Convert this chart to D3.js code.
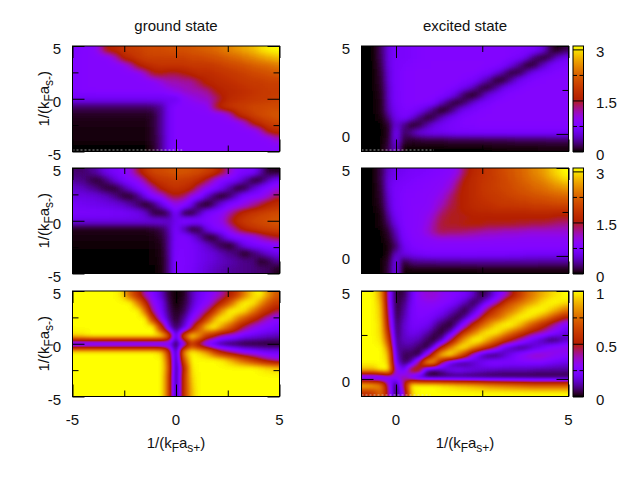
<!DOCTYPE html>
<html>
<head>
<meta charset="utf-8">
<script src="https://cdn.jsdelivr.net/npm/d3@7"></script>
<style>
  html, body { margin: 0; padding: 0; background: #fff; }
  text { font-family: "Liberation Sans", Arial, sans-serif; font-size: 15px; fill: #111; }
</style>
</head>
<body>
<svg id="chart" width="640" height="480"></svg>
<script>
// values, rows run top to bottom
const groundTop = [
  [.75,.8,.82,1.1,1.55,1.65,1.8,1.9,1.95,2,2.05,2.05,2.1,2.1,2.1,2.15,2.2,2.25,2.3,2.4,2.5,2.6,2.7,2.8,2.95,3.05,3.1],
  [.78,.8,.82,.82,.82,1.1,1.55,1.7,1.85,1.95,1.95,1.95,1.95,1.95,1.95,2,2,2.05,2.1,2.15,2.25,2.3,2.4,2.5,2.6,2.7,2.8],
  [.78,.8,.82,.82,.82,.82,.85,1.1,1.5,1.65,1.75,1.8,1.8,1.8,1.8,1.85,1.85,1.85,1.9,1.95,2,2.05,2.1,2.2,2.25,2.3,2.4],
  [.78,.8,.82,.82,.82,.82,.82,.82,.85,1.1,1.45,1.5,1.4,1.4,1.5,1.6,1.7,1.7,1.75,1.8,1.85,1.9,1.95,2,2.05,2.1,2.15],
  [.78,.8,.82,.82,.82,.82,.82,.82,.82,.82,.85,1,1.15,1.15,1.2,1.2,1.4,1.6,1.65,1.7,1.75,1.8,1.85,1.9,1.9,1.95,1.95],
  [.78,.8,.8,.82,.82,.82,.82,.82,.82,.82,.82,.82,.9,1,1.1,1.15,1.15,1.25,1.5,1.6,1.65,1.7,1.75,1.8,1.85,1.9,1.9],
  [.62,.62,.62,.62,.62,.62,.62,.62,.62,.62,.62,.62,.62,.6,.85,.95,1.05,1.1,1.25,1.5,1.7,1.75,1.8,1.85,1.9,1.9,1.95],
  [.2,.2,.2,.2,.2,.2,.2,.2,.2,.2,.22,.32,.62,.8,.82,.82,.85,.9,1.4,1.7,1.85,1.9,1.95,2,2,2.05,2.05],
  [.06,.06,.06,.06,.06,.06,.06,.06,.06,.06,.1,.3,.62,.8,.82,.82,.82,.82,.82,.85,1.1,1.6,1.8,1.95,2.05,2.1,2.15],
  [.04,.04,.04,.04,.04,.04,.04,.04,.04,.04,.1,.3,.62,.8,.82,.82,.82,.82,.82,.82,.82,.85,1.1,1.55,1.75,1.9,2],
  [.03,.03,.03,.03,.03,.03,.03,.03,.03,.03,.08,.3,.62,.8,.82,.82,.82,.82,.82,.82,.82,.82,.82,.85,1.1,1.55,1.7],
  [.02,.02,.02,.02,.02,.02,.02,.02,.02,.02,.08,.28,.62,.8,.82,.82,.82,.82,.82,.82,.82,.82,.82,.82,.82,.85,1.1],
  [0,0,0,0,0,0,0,0,0,0,.06,.28,.62,.8,.82,.82,.82,.82,.82,.82,.82,.82,.82,.82,.82,.82,.82]
];
const groundMid = [
  [.22,.22,.3,.42,.6,.7,.8,1,1.45,1.8,2,2.05,2.1,2.15,2.15,2.1,2.05,1.95,1.8,1.5,1.1,.8,.75,.7,.4,.1,.06],
  [.3,.25,.12,.1,.28,.5,.68,.8,.95,1.3,1.7,1.85,1.9,1.95,1.9,1.85,1.7,1.4,1.05,.8,.72,.62,.38,.08,.08,.38,.6],
  [.45,.4,.3,.2,.08,.08,.28,.5,.72,.9,1.2,1.6,1.75,1.8,1.75,1.6,1.2,.95,.78,.6,.3,.05,.11,.42,.65,.8,1],
  [.55,.55,.52,.48,.4,.25,.1,.05,.25,.6,.85,1,1.35,1.5,1.35,1,.85,.45,.15,.03,.18,.48,.72,.8,.85,1.05,1.35],
  [.65,.62,.6,.58,.55,.52,.45,.35,.2,.04,.2,.5,.8,1,.85,.55,.13,.04,.25,.55,.75,.85,1,1.2,1.4,1.6,1.75],
  [.72,.72,.72,.7,.7,.68,.68,.65,.6,.45,.12,.05,.2,.7,.1,.05,.35,.7,.8,.9,1.2,1.5,1.7,1.85,1.95,2,2.05],
  [.55,.55,.55,.55,.55,.55,.55,.55,.55,.55,.55,.55,.45,.6,.8,.8,.75,.8,.85,1,1.45,1.75,1.9,2,2.05,2.1,2.15],
  [.05,.05,.05,.05,.05,.05,.05,.05,.05,.05,.08,.15,.35,.7,.35,.05,.12,.55,.78,.82,1.05,1.4,1.65,1.8,1.9,1.95,2],
  [.02,.02,.02,.02,.02,.02,.02,.02,.02,.02,.04,.08,.3,.7,.75,.62,.35,.07,.07,.4,.7,.8,.85,.95,1.15,1.35,1.5],
  [.01,.01,.01,.01,.01,.01,.01,.01,.01,.01,.02,.05,.3,.72,.75,.7,.6,.45,.25,.12,.05,.3,.6,.7,.75,.8,.85],
  [0,0,0,0,0,0,0,0,0,0,.01,.04,.28,.75,.75,.7,.62,.55,.5,.38,.28,.2,.04,.2,.35,.5,.6],
  [0,0,0,0,0,0,0,0,0,0,.01,.03,.25,.78,.75,.7,.62,.55,.5,.42,.38,.33,.28,.25,.05,.12,.3],
  [0,0,0,0,0,0,0,0,0,0,0,.02,.25,.78,.75,.68,.6,.5,.42,.38,.33,.3,.28,.25,.22,.2,.06]
];
const groundBot = [
  [1,1,1,1,1,1,.95,.72,.55,.35,.25,.15,.03,0,.02,.12,.2,.25,.3,.38,.5,.62,.8,.95,1,.85,.7],
  [1,1,1,1,1,1,1,1,.8,.55,.3,.2,.05,0,.03,.12,.22,.28,.4,.55,.72,.92,1,.98,.85,.7,.6],
  [1,1,1,1,1,1,1,1,1,.75,.38,.22,.07,.01,.05,.17,.28,.42,.62,.85,1,1,.95,.8,.65,.55,.45],
  [1,1,1,1,1,1,1,1,1,1,.6,.28,.1,.02,.1,.25,.4,.65,.9,1,.95,.8,.68,.55,.45,.35,.28],
  [1,1,1,1,1,1,1,1,1,1,1,.6,.18,.05,.15,.4,.7,.95,1,.85,.7,.55,.42,.33,.28,.25,.22],
  [.95,.97,1,1,1,1,1,1,1,1,1,.98,.75,.12,.7,1,.85,.6,.48,.35,.3,.25,.2,.18,.16,.14,.13],
  [.12,.12,.12,.12,.12,.12,.12,.12,.12,.12,.12,.12,.2,.03,.25,.6,.4,.2,.12,.06,.04,.03,.02,.02,.02,.02,.02],
  [1,1,1,1,1,1,1,1,1,1,1,.95,.6,.05,.85,1,.95,.85,.65,.5,.4,.33,.28,.25,.22,.2,.2],
  [1,1,1,1,1,1,1,1,1,1,1,1,.7,.03,.7,1,1,1,1,.98,.9,.8,.7,.6,.5,.42,.35],
  [1,1,1,1,1,1,1,1,1,1,1,1,.75,.02,.55,.98,1,1,1,1,1,1,1,1,.98,.95,.92],
  [1,1,1,1,1,1,1,1,1,1,1,1,.7,.02,.6,.95,1,1,1,1,1,1,1,1,1,1,1],
  [1,1,1,1,1,1,1,1,1,1,1,1,.7,.02,.6,.92,1,1,1,1,1,1,1,1,1,1,1],
  [1,1,1,1,1,1,1,1,1,1,1,1,.7,.02,.6,.9,1,1,1,1,1,1,1,1,1,1,1]
];
const excitedTop = [
  [0,0,.2,.55,.7,.72,.75,.78,.8,.8,.8,.8,.8,.8,.8,.8,.8,.8,.8,.78,.78,.75,.7,.55,.2,.04,.15],
  [0,0,.18,.55,.7,.72,.75,.78,.8,.8,.8,.8,.8,.8,.8,.8,.8,.8,.8,.78,.72,.55,.22,.05,.13,.42,.6],
  [0,0,.15,.55,.7,.75,.78,.8,.8,.82,.82,.82,.82,.82,.82,.82,.8,.8,.72,.55,.3,.07,.1,.38,.6,.72,.75],
  [0,0,.12,.5,.72,.78,.8,.82,.82,.82,.82,.82,.82,.82,.82,.78,.72,.55,.32,.07,.09,.35,.6,.7,.75,.78,.8],
  [0,0,.1,.5,.72,.78,.8,.82,.82,.82,.82,.82,.82,.78,.72,.55,.35,.09,.07,.32,.58,.7,.78,.8,.82,.82,.82],
  [0,0,.08,.45,.72,.78,.8,.82,.82,.82,.82,.8,.72,.6,.4,.11,.06,.28,.55,.68,.75,.8,.82,.82,.82,.82,.82],
  [0,0,.06,.45,.7,.78,.8,.82,.82,.82,.78,.65,.42,.13,.04,.22,.5,.65,.75,.8,.82,.82,.82,.82,.82,.82,.82],
  [0,0,.05,.42,.7,.78,.8,.82,.8,.72,.42,.15,.04,.2,.45,.65,.72,.8,.82,.82,.82,.82,.82,.82,.82,.82,.82],
  [0,0,.05,.4,.65,.75,.75,.65,.42,.18,.03,.17,.42,.62,.72,.78,.8,.82,.82,.82,.82,.82,.82,.82,.82,.82,.82],
  [0,0,.02,.25,.6,.7,.55,.25,.05,.13,.4,.6,.7,.78,.8,.82,.82,.82,.82,.82,.82,.82,.82,.82,.82,.82,.82],
  [0,0,0,.1,.5,.28,.05,.11,.35,.55,.65,.7,.75,.78,.78,.8,.8,.8,.8,.8,.8,.8,.8,.8,.8,.8,.8],
  [0,0,0,.05,.65,.2,.35,.55,.62,.65,.65,.68,.7,.7,.72,.72,.72,.72,.72,.72,.72,.72,.72,.72,.72,.72,.72],
  [0,0,0,.1,.6,.12,.08,.1,.12,.12,.12,.14,.14,.15,.15,.15,.16,.16,.16,.17,.18,.18,.18,.18,.2,.2,.2],
  [0,0,0,.15,.45,0,0,0,0,0,0,0,0,0,0,0,0,.01,.01,.01,.01,.01,.01,.02,.02,.02,.02]
];
const excitedMid = [
  [0,0,.15,.5,.6,.65,.7,.72,.75,.78,.8,.85,1,1.4,1.65,1.75,1.85,1.95,2.05,2.15,2.25,2.35,2.5,2.6,2.8,2.95,3.1],
  [0,0,.15,.55,.65,.7,.75,.78,.8,.82,.85,.95,1.2,1.55,1.7,1.8,1.85,1.95,2,2.1,2.2,2.3,2.4,2.5,2.65,2.8,2.95],
  [0,0,.12,.55,.7,.75,.78,.8,.82,.85,.9,1.05,1.4,1.6,1.7,1.8,1.9,1.95,2,2.05,2.15,2.2,2.3,2.35,2.45,2.55,2.65],
  [0,0,.1,.5,.72,.78,.8,.82,.85,.88,1,1.25,1.5,1.6,1.7,1.8,1.85,1.9,1.95,2,2.05,2.1,2.15,2.2,2.25,2.3,2.35],
  [0,0,.08,.45,.72,.78,.82,.82,.85,.95,1.1,1.35,1.5,1.6,1.7,1.75,1.8,1.85,1.9,1.9,1.95,1.95,2,2,2.05,2.1,2.1],
  [0,0,.05,.4,.7,.78,.82,.85,.88,1,1.25,1.45,1.5,1.6,1.65,1.7,1.7,1.75,1.75,1.75,1.75,1.75,1.8,1.8,1.8,1.8,1.8],
  [0,0,.03,.3,.65,.78,.82,.85,.95,1.15,1.4,1.5,1.5,1.5,1.55,1.55,1.55,1.55,1.55,1.55,1.55,1.55,1.55,1.55,1.55,1.5,1.5],
  [0,0,.02,.2,.55,.78,.82,.85,1,1.25,1.45,1.5,1.5,1.55,1.55,1.55,1.5,1.5,1.5,1.5,1.45,1.45,1.4,1.4,1.35,1.3,1.25],
  [0,0,0,.1,.4,.75,.82,.88,1.05,1.25,1.4,1.35,1.35,1.3,1.25,1.2,1.15,1.15,1.1,1.1,1.1,1.05,1.05,1.05,1.05,1.05,1.05],
  [0,0,0,.05,.3,.7,.8,.82,.85,.92,.95,.95,.95,.95,.95,.92,.92,.9,.9,.9,.88,.88,.88,.88,.88,.88,.88],
  [0,0,0,.02,.2,.6,.75,.8,.82,.82,.82,.82,.82,.82,.82,.82,.82,.82,.82,.82,.82,.82,.82,.82,.82,.82,.82],
  [0,0,0,.02,.45,.55,.6,.65,.7,.72,.72,.72,.72,.72,.72,.7,.7,.7,.7,.68,.68,.65,.65,.65,.65,.65,.62],
  [0,0,0,.1,.6,.1,.25,.28,.28,.28,.3,.3,.3,.32,.32,.32,.32,.32,.32,.32,.32,.32,.32,.3,.3,.3,.3],
  [0,0,0,.12,.6,0,.01,.01,.01,.01,.01,.01,.01,.01,.01,.02,.02,.02,.02,.02,.02,.02,.03,.03,.03,.03,.03]
];
const excitedBot = [
  [1,1,.85,.3,.03,.05,.18,.3,.34,.34,.3,.27,.25,.22,.15,.04,.08,.2,.3,.45,.6,.72,.8,.88,.93,.97,1],
  [1,1,.9,.3,.03,.08,.2,.28,.3,.3,.28,.25,.2,.13,.04,.1,.22,.35,.55,.68,.75,.82,.88,.96,1,1,.97],
  [1,1,.92,.35,.03,.1,.22,.26,.26,.25,.22,.16,.1,.03,.12,.25,.45,.62,.72,.78,.88,.96,1,1,.95,.88,.78],
  [1,1,.93,.4,.04,.12,.22,.25,.24,.2,.15,.08,.02,.1,.25,.45,.65,.72,.82,.93,1,1,.95,.85,.75,.62,.5],
  [1,1,.95,.45,.05,.15,.22,.22,.2,.12,.05,.02,.12,.3,.55,.7,.82,.94,1,1,.92,.8,.68,.56,.45,.35,.25],
  [1,1,.95,.55,.06,.15,.2,.18,.12,.05,.02,.12,.35,.62,.78,.92,1,1,.9,.78,.66,.55,.45,.38,.3,.25,.18],
  [1,1,.97,.65,.08,.14,.15,.12,.06,.02,.12,.4,.68,.88,1,1,.88,.75,.62,.5,.38,.28,.19,.12,.05,.07,.13],
  [1,1,1,.8,.1,.1,.1,.05,.02,.2,.55,.8,.98,1,.85,.7,.55,.4,.18,.11,.05,.07,.14,.2,.28,.3,.33],
  [1,1,1,.9,.15,.05,.05,.03,.3,.68,.95,1,.82,.6,.3,.13,.06,.06,.13,.2,.28,.33,.36,.36,.33,.3,.28],
  [1,1,1,.95,.2,.05,.1,.45,.95,.9,.4,.13,.06,.06,.13,.2,.26,.28,.26,.25,.25,.25,.25,.25,.22,.2,.18],
  [.9,.9,1,1,.3,.2,.55,.55,.1,.05,.12,.19,.22,.2,.18,.16,.14,.13,.12,.12,.12,.12,.11,.1,.1,.1,.1],
  [.05,.05,.05,.2,.3,.4,.15,.05,.02,.02,.02,.02,.02,.02,.02,.02,.02,.02,.02,.02,.02,.02,.02,.02,.02,.02,.02],
  [.95,.9,.8,.35,.03,.45,1,1,1,1,.97,.95,.92,.9,.88,.85,.82,.8,.78,.76,.74,.72,.7,.7,.7,.7,.7],
  [.55,.6,.75,.4,.02,.35,.95,1,1,1,1,1,1,1,1,1,1,1,1,1,1,1,1,1,1,1,1]
];

// ticks and labels
const energyMax = 3.1, overlapMax = 1;
const leftLabels = [-5, 0, 5], leftMinor = [-2.5, 2.5];
const rightLabels = [0, 5], rightMinor = [2.5];
const energyTicks = [0, 1.5, 3], energyMinor = [0.75, 2.25];
const overlapTicks = [0, 0.5, 1], overlapMinor = [0.25, 0.75];
// faint unconverged points along the lower edge: x extent, one per panel with any
const groundTopSpecks = [-5, 0.3], excitedTopSpecks = [-1, 1.1], excitedBotSpecks = [-1, 1];

// gnuplot default pm3d palette (rgbformulae 7,5,15)
const palette = (t) => {
  const c = (v) => Math.round(255 * Math.max(0, Math.min(1, v)));
  return [c(Math.sqrt(t)), c(t * t * t), c(Math.sin(2 * Math.PI * t))];
};
const paletteCss = (t) => `rgb(${palette(t).join(",")})`;

const panelW = 207, panelH = 105.5;
const columns = [
  { x: 72.5, domain: [-5, 5], labels: leftLabels, minor: leftMinor, title: "ground state", ylab: true },
  { x: 361.5, domain: [-1, 5], labels: rightLabels, minor: rightMinor, title: "excited state", ylab: false }
];
const rows = [
  { y: 46, max: energyMax, grids: [groundTop, excitedTop], specks: [groundTopSpecks, excitedTopSpecks], ticks: energyTicks, minor: energyMinor },
  { y: 168, max: energyMax, grids: [groundMid, excitedMid], specks: [null, null], ticks: energyTicks, minor: energyMinor },
  { y: 291, max: overlapMax, grids: [groundBot, excitedBot], specks: [null, excitedBotSpecks], ticks: overlapTicks, minor: overlapMinor }
];

const svg = d3.select("#chart");
const defs = svg.append("defs");

// cells are drawn in grey, smoothed, then the grey level is run through the palette
const table = (ch) => d3.range(256).map((i) => (palette(i / 255)[ch] / 255).toFixed(3)).join(" ");
const filter = defs.append("filter").attr("id", "pm3d").attr("color-interpolation-filters", "sRGB");
filter.append("feGaussianBlur").attr("stdDeviation", 3);
const transfer = filter.append("feComponentTransfer");
["feFuncR", "feFuncG", "feFuncB"].forEach((f, ch) =>
  transfer.append(f).attr("type", "table").attr("tableValues", table(ch))
);

const grad = defs.append("linearGradient").attr("id", "cbar").attr("x1", 0).attr("x2", 0).attr("y1", 1).attr("y2", 0);
grad.selectAll("stop").data(d3.range(0, 1.001, 0.02)).join("stop")
  .attr("offset", (d) => d).attr("stop-color", (d) => paletteCss(d));

function addTicks(g, axis, scale, values, len, at) {
  g.append("g")
    .attr("transform", at)
    .call(axis(scale).tickValues(values).tickSize(-len).tickFormat(""))
    .call((s) => s.select(".domain").remove())
    .selectAll("line").attr("stroke", "#000");
}

function axisTitle(sel, sub1, sub2) {
  sel.append("tspan").text("1/(k");
  sel.append("tspan").attr("dy", 4).style("font-size", "12px").text(sub1);
  sel.append("tspan").attr("dy", -4).text("a");
  sel.append("tspan").attr("dy", 4).style("font-size", "12px").text(sub2);
  sel.append("tspan").attr("dy", -4).text(")");
}

columns.forEach((col, c) => {
  svg.append("text").attr("x", col.x + panelW / 2).attr("y", 31).attr("text-anchor", "middle").text(col.title);

  rows.forEach((row, r) => {
    const grid = row.grids[c];
    const xBand = d3.scaleBand(d3.range(grid[0].length), [col.x, col.x + panelW]);
    const yBand = d3.scaleBand(d3.range(grid.length), [row.y, row.y + panelH]);
    const grey = d3.scaleLinear([0, row.max], ["#000", "#fff"]).clamp(true);
    const x = d3.scaleLinear(col.domain, [col.x, col.x + panelW]);
    const y = d3.scaleLinear(col.domain, [row.y + panelH, row.y]);
    const clipId = `clip${c}${r}`;
    defs.append("clipPath").attr("id", clipId).append("rect")
      .attr("x", col.x).attr("y", row.y).attr("width", panelW).attr("height", panelH);

    // edge cells run past the clip so the blur does not fade at the border
    const bleed = 14;
    const clipped = svg.append("g").attr("clip-path", `url(#${clipId})`);
    const cells = clipped.append("g").attr("filter", "url(#pm3d)").attr("shape-rendering", "crispEdges");
    grid.forEach((line, j) => {
      cells.selectAll(null).data(line).join("rect")
        .attr("x", (d, i) => xBand(i) - (i === 0 ? bleed : 0))
        .attr("width", (d, i) => xBand.bandwidth() + (i === 0 || i === line.length - 1 ? bleed : 0) + 0.5)
        .attr("y", yBand(j) - (j === 0 ? bleed : 0))
        .attr("height", yBand.bandwidth() + (j === 0 || j === grid.length - 1 ? bleed : 0) + 0.5)
        .attr("fill", (d) => grey(d));
    });

    const specks = row.specks[c];
    if (specks) {
      clipped.append("line")
        .attr("x1", x(specks[0])).attr("x2", x(specks[1]))
        .attr("y1", row.y + panelH - 1.5).attr("y2", row.y + panelH - 1.5)
        .attr("stroke", "#ddd").attr("stroke-opacity", 0.7).attr("stroke-dasharray", "2 2");
    }

    const frame = svg.append("g");
    addTicks(frame, d3.axisTop, x, col.labels, 12, `translate(0,${row.y})`);
    addTicks(frame, d3.axisBottom, x, col.labels, 12, `translate(0,${row.y + panelH})`);
    addTicks(frame, d3.axisTop, x, col.minor, 6, `translate(0,${row.y})`);
    addTicks(frame, d3.axisBottom, x, col.minor, 6, `translate(0,${row.y + panelH})`);
    addTicks(frame, d3.axisLeft, y, col.labels, 12, `translate(${col.x},0)`);
    addTicks(frame, d3.axisRight, y, col.labels, 12, `translate(${col.x + panelW},0)`);
    addTicks(frame, d3.axisLeft, y, col.minor, 6, `translate(${col.x},0)`);
    addTicks(frame, d3.axisRight, y, col.minor, 6, `translate(${col.x + panelW},0)`);
    frame.append("rect").attr("x", col.x).attr("y", row.y).attr("width", panelW).attr("height", panelH)
      .attr("fill", "none").attr("stroke", "#000");

    // y tick labels
    const labelRight = c === 0 ? 61 : 350;
    svg.selectAll(null).data(col.labels).join("text")
      .attr("x", labelRight).attr("y", (d) => y(d) + 8).attr("text-anchor", "end").text((d) => d);

    if (col.ylab) {
      svg.append("text").attr("transform", `translate(49,${row.y + panelH / 2}) rotate(-90)`)
        .attr("text-anchor", "middle").call(axisTitle, "F", "s-");
    }

    if (r === 2) {
      svg.selectAll(null).data(col.labels).join("text")
        .attr("x", (d) => x(d)).attr("y", 425).attr("text-anchor", "middle").text((d) => d);
      svg.append("text").attr("x", col.x + panelW / 2).attr("y", 448).attr("text-anchor", "middle")
        .call(axisTitle, "F", "s+");
    }

    // colour bar beside the excited state column
    if (c === 1) {
      const barX = 573, barW = 10.5;
      const z = d3.scaleLinear([0, row.max], [row.y + panelH, row.y]);
      svg.append("rect").attr("x", barX).attr("y", row.y).attr("width", barW).attr("height", panelH)
        .attr("fill", "url(#cbar)");
      addTicks(svg, d3.axisLeft, z, row.ticks, barW, `translate(${barX},0)`);
      addTicks(svg, d3.axisLeft, z, row.minor, 4, `translate(${barX},0)`);
      addTicks(svg, d3.axisRight, z, row.minor, 4, `translate(${barX + barW},0)`);
      svg.append("rect").attr("x", barX).attr("y", row.y).attr("width", barW).attr("height", panelH)
        .attr("fill", "none").attr("stroke", "#000");
      svg.selectAll(null).data(row.ticks).join("text")
        .attr("x", 596).attr("y", (d) => z(d) + 8).text((d) => d);
    }
  });
});
</script>
</body>
</html>
